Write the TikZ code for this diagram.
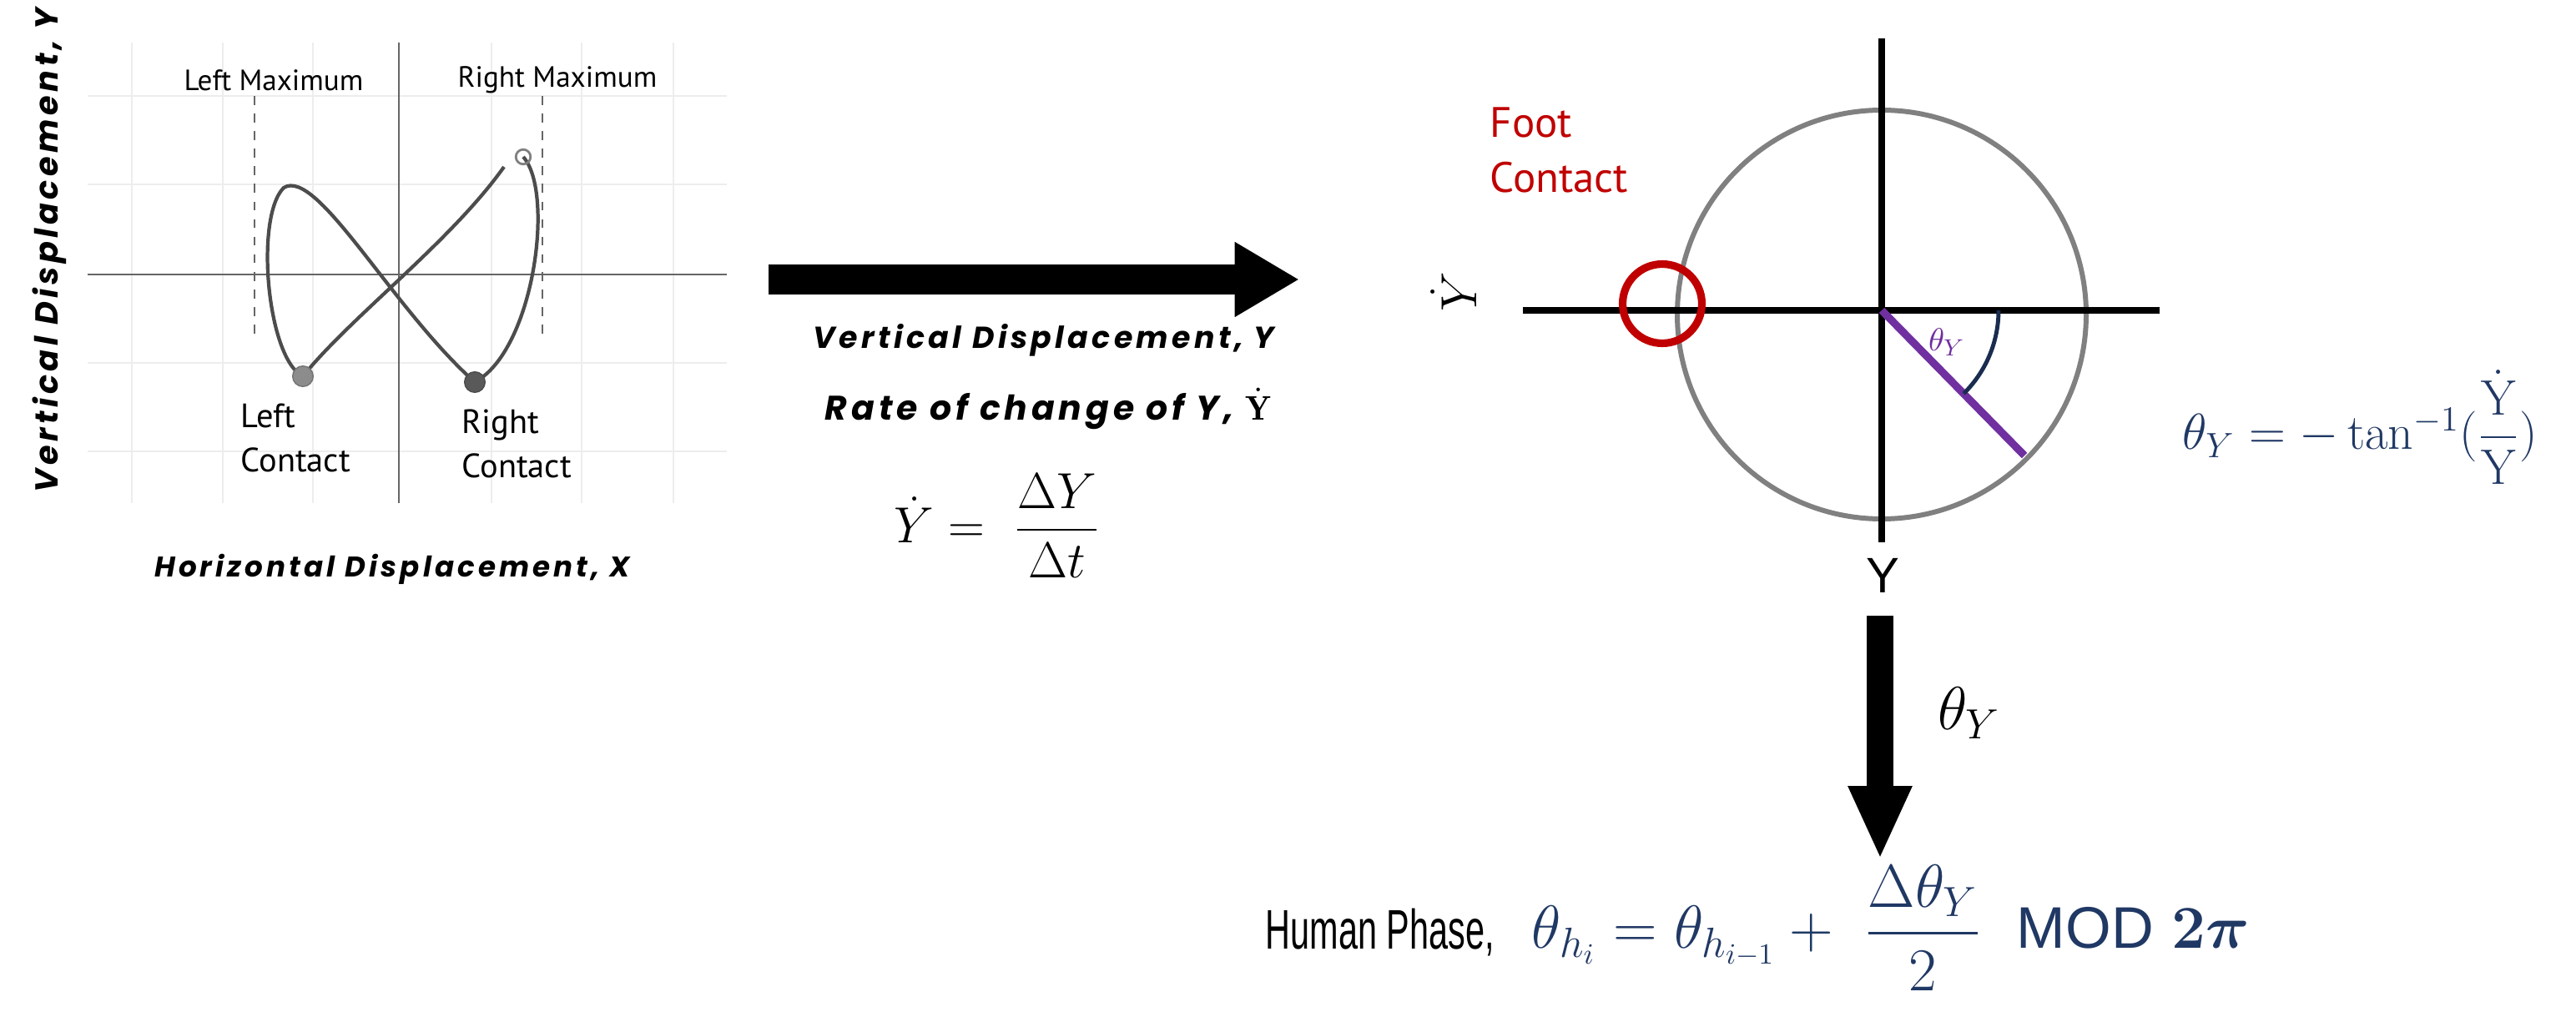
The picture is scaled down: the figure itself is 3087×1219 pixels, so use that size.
\documentclass[tikz,border=0pt]{standalone}
\usepackage{fontspec}
\usepackage{amsmath}
\usetikzlibrary{arrows.meta}
\newfontfamily\ptf{PT Sans}
\newfontfamily\popf[LetterSpace=12]{Poppins}
\newfontfamily\humf{Liberation Sans}
\definecolor{navy}{HTML}{203864}
\definecolor{purp}{HTML}{7030A0}
\definecolor{footred}{HTML}{C00000}
\tikzset{
 grid/.style={draw=black!7, line width=0.6pt},
 axthin/.style={draw=black!60, line width=0.8pt},
 dashln/.style={draw=black!60, line width=0.7pt, dashed},
 traj/.style={draw=black!70, line width=1.2pt},
 axthick/.style={draw=black, line width=2.4pt},
 bigarrow/.style={draw=black, line width=10pt, -{Triangle[length=22pt,width=24pt]}},
 lbl/.style={inner sep=0pt, font=\ptf\fontsize{10}{12}\selectfont},
 head/.style={inner sep=0pt, font=\popf\bfseries\itshape},
}
\begin{document}
\begin{tikzpicture}[x=0.01cm,y=-0.01cm]
\useasboundingbox (0,0) rectangle (3087,1219);
% left plot grid
\foreach \gx in {158,267,375,589,697,807} \draw[grid] (\gx,51) -- (\gx,603);
\foreach \gy in {115,221,435,541} \draw[grid] (105,\gy) -- (871,\gy);
\draw[axthin] (478,51) -- (478,603);
\draw[axthin] (105,329) -- (871,329);
\draw[dashln] (305,115) -- (305,407);
\draw[dashln] (650,115) -- (650,407);
\draw[traj] (604,200) .. controls (540,290) and (420,380) .. (363,451);
\draw[traj] (363,451) .. controls (320,430) and (305,260) .. (340,225)
  .. controls (380,200) and (470,370) .. (569,458);
\draw[traj] (569,458) .. controls (640,420) and (665,230) .. (627,188);
\node[circle, draw=black!50, line width=0.8pt, minimum size=5pt, inner sep=0pt] (endpt) at (627,188) {};
\node[circle, fill=black!45, draw=black!55, minimum size=7pt, inner sep=0pt] (lc) at (363,451) {};
\node[circle, fill=black!65, draw=black!70, minimum size=7pt, inner sep=0pt] (rc) at (569,458) {};
\node[lbl] (lmax) at (328,96) {Left Maximum};
\node[lbl] (rmax) at (668,96) {Right Maximum};
\node[lbl, anchor=west, align=left, font=\ptf\fontsize{11.5}{15}\selectfont] (lct) at (288,525) {Left\\Contact};
\node[lbl, anchor=west, align=left, font=\ptf\fontsize{11.5}{15}\selectfont] (rct) at (553,532) {Right\\Contact};
\node[head, rotate=90] (ylab) at (59,300) {\resizebox{165pt}{!}{Vertical Displacement, Y}};
\node[head] (xlab) at (470,682) {\resizebox{162pt}{!}{Horizontal Displacement, X}};
% right arrow
\coordinate (a1) at (921,335);
\coordinate (a2) at (1557,335);
\draw[bigarrow] (a1) -- (a2);
\node[head] (t1) at (1251,408) {\resizebox{157pt}{!}{Vertical Displacement, Y}};
\node[head] (t2) at (1256,490) {\resizebox{152pt}{!}{Rate of change of Y, {\normalfont$\dot{\mathbf{Y}}$}}};
\node[inner sep=0pt, font=\fontsize{17}{20}\selectfont] (eq1) at (1195,630) {$\dot{Y} = \ \dfrac{\Delta Y}{\Delta t}$};
% circle diagram
\coordinate (O) at (2255,372);
\draw[draw=black!50, line width=1.7pt] (2255,377) circle (245);
\draw[axthick] (2255,46) -- (2255,650);
\draw[axthick] (1825,372) -- (2588,372);
\draw[draw=purp, line width=2.6pt] (O) -- ++(45.5:244);
\draw[draw=navy!80!black, line width=1.4pt] ([shift={(0:140)}]O) arc[start angle=0, end angle=45.5, radius=140];
\node[text=purp, inner sep=0pt, font=\fontsize{11}{13}\selectfont] (thl) at (2333,410) {$\theta_Y$};
\node[circle, draw=footred, line width=2.6pt, minimum size=27pt, inner sep=0pt] (fc) at (1992,364) {};
\node[anchor=west, align=left, text=footred, inner sep=0pt, font=\ptf\fontsize{14.5}{19}\selectfont] (fct) at (1785,180) {Foot\\Contact};
\node[rotate=90, inner sep=0pt, font=\fontsize{17}{20}\selectfont] (ydot) at (1742,350) {$\dot{Y}$};
\node[inner sep=0pt, font=\humf\fontsize{17}{20}\selectfont] (ylow) at (2256,690) {Y};
\node[text=navy, anchor=west, inner sep=0pt, font=\fontsize{17}{20}\selectfont] (eq2) at (2615,512) {$\theta_Y = -\tan^{-1}(\dfrac{\dot{\mathrm{Y}}}{\mathrm{Y}})$};
% down arrow
\coordinate (d1) at (2253,738);
\coordinate (d2) at (2253,1030);
\draw[draw=black, line width=9pt, -{Triangle[length=25pt,width=20pt]}] (d1) -- (d2);
\node[inner sep=0pt, font=\fontsize{22}{26}\selectfont] (thd) at (2360,855) {$\theta_Y$};
% bottom
\node[anchor=west, inner sep=0pt, font=\humf\fontsize{19}{22}\selectfont] (hp) at (1516,1118) {\scalebox{0.62}[1]{Human Phase,}};
\node[anchor=west, text=navy, inner sep=0pt, font=\fontsize{20}{24}\selectfont] (eq3) at (1835,1112) {$\theta_{h_i} = \theta_{h_{i-1}} + \ \dfrac{\Delta\theta_Y}{2}$\ \ {\humf MOD} $\boldsymbol{2\pi}$};
\end{tikzpicture}
\end{document}
